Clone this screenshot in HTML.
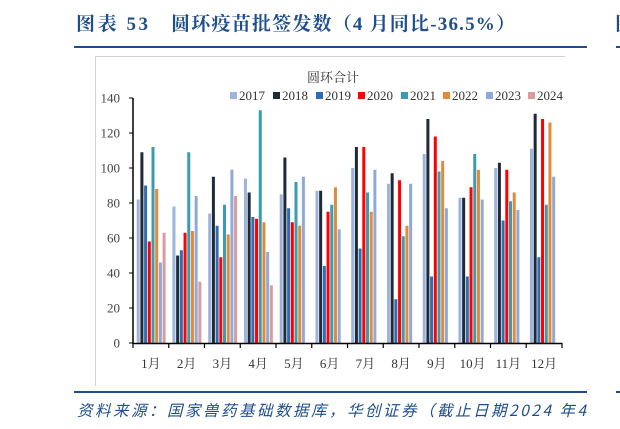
<!DOCTYPE html>
<html><head><meta charset="utf-8"><style>
html,body{margin:0;padding:0;background:#fff;width:620px;height:429px;overflow:hidden}
svg{display:block}
</style></head><body>
<svg width="620" height="429" xmlns="http://www.w3.org/2000/svg">
<text x="76" y="30" font-family="'Liberation Serif','Noto Serif CJK SC',serif" font-size="19" font-weight="bold" fill="#1f4e8c" textLength="72" lengthAdjust="spacing">图表 53</text>
<text x="171" y="30" font-family="'Liberation Serif','Noto Serif CJK SC',serif" font-size="19" font-weight="bold" fill="#1f4e8c" textLength="344" lengthAdjust="spacing">圆环疫苗批签发数（4 月同比-36.5%）</text>
<text x="615" y="30" font-family="'Noto Serif CJK SC',serif" font-size="19" font-weight="bold" fill="#1f4e8c">图</text>
<rect x="74" y="46" width="513" height="2" fill="#1f4e8c"/>
<rect x="616" y="46" width="4" height="2" fill="#1f4e8c"/>
<rect x="95" y="56" width="470" height="1" fill="#d0d0d0"/>
<rect x="95" y="56" width="1" height="330" fill="#d0d0d0"/>
<text x="333" y="82" text-anchor="middle" font-family="'Noto Serif CJK SC',serif" font-size="13" fill="#333">圆环合计</text>
<g id="legend" font-family="'Liberation Serif',serif" font-size="13" fill="#333"></g>
<g id="yax" font-family="'Liberation Serif',serif" font-size="13" fill="#444" text-anchor="end"></g>
<g id="bars"></g>
<line x1="133" y1="343.5" x2="562" y2="343.5" stroke="#000" stroke-width="1.5"/>
<line x1="133" y1="98" x2="133" y2="344" stroke="#000" stroke-width="1.5"/>
<g id="xt" font-family="'Liberation Serif','Noto Serif CJK SC',serif" font-size="13" fill="#333" text-anchor="middle"></g>
<rect x="74" y="391" width="513" height="2" fill="#1f4e8c"/>
<rect x="616" y="391" width="4" height="2" fill="#1f4e8c"/>
<text x="77" y="416" font-family="'Noto Sans CJK SC','Liberation Sans',sans-serif" font-size="15.5" font-style="italic" fill="#1f4e8c" textLength="509" lengthAdjust="spacing">资料来源：国家兽药基础数据库，华创证券（截止日期2024 年4</text>
</svg>
<script>
var NS="http://www.w3.org/2000/svg";
function el(t,a,p,txt){var e=document.createElementNS(NS,t);for(var k in a)e.setAttribute(k,a[k]);if(txt!=null)e.textContent=txt;document.getElementById(p).appendChild(e);return e;}
var cols=["#9db4dc","#1f2a38","#2e6db4","#ff0000","#3a9cb0","#e08a3c","#8faad8","#d99b9b"];
var yrs=["2017","2018","2019","2020","2021","2022","2023","2024"];
var lx=[230,273,316,358,401,443,486,528];
for(var i=0;i<8;i++){el("rect",{x:lx[i],y:92,width:7,height:7,fill:cols[i]},"legend");el("text",{x:lx[i]+9,y:100},"legend",yrs[i]);}
for(var v=0;v<=140;v+=20){var y=343-v*1.75;el("text",{x:120,y:y+4.5},"yax",String(v));el("line",{x1:129,y1:y,x2:133,y2:y,stroke:"#000","stroke-width":1},"yax");}
var d=[[82,109,90,58,112,88,46,63],[78,50,53,63,109,64,84,35],[74,95,67,49,79,62,99,84],[94,86,72,71,133,69,52,33],[85,106,77,69,92,67,95,0],[87,87,44,75,79,89,65,0],[100,112,54,112,86,75,99,0],[91,97,25,93,61,67,91,0],[108,128,38,118,98,104,77,0],[83,83,38,89,108,99,82,0],[100,103,70,99,81,86,76,0],[111,131,49,128,79,126,95,0]];
var w=429/12;
for(var m=0;m<12;m++){var x0=133+m*w;
for(var i=0;i<8;i++){var v=d[m][i];if(!v)continue;el("rect",{x:x0+3.7+i*3.7,y:343-v*1.75,width:3,height:v*1.75,fill:cols[i]},"bars");}
el("line",{x1:x0+w,y1:343,x2:x0+w,y2:348,stroke:"#000","stroke-width":1.2},"xt");
el("text",{x:x0+w/2,y:368},"xt",(m+1)+"月");}
el("line",{x1:133,y1:343,x2:133,y2:348,stroke:"#000","stroke-width":1.2},"xt");
</script>
</body></html>
